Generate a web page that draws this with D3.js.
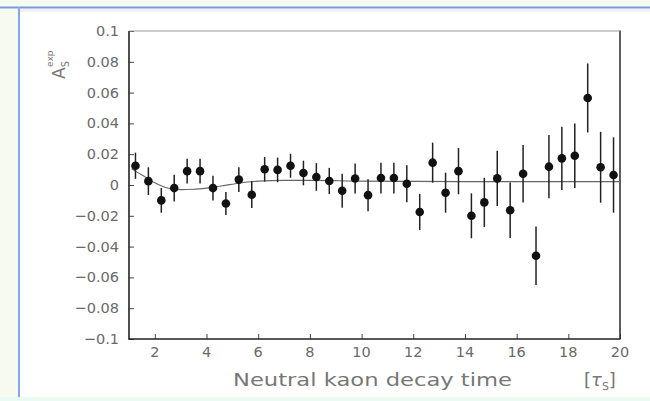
<!DOCTYPE html>
<html>
<head>
<meta charset="utf-8">
<script src="https://cdn.jsdelivr.net/npm/d3@7"></script>
<style>
  html, body { margin: 0; padding: 0; background: #f6faf0; }
  svg { display: block; }
</style>
</head>
<body>
<svg id="chart" width="650" height="401"></svg>
<script>
// Bin centres of the decay-time histogram (units of tau_S)
const decayTimes = [1.25, 1.75, 2.25, 2.75, 3.25, 3.75, 4.25, 4.75, 5.25, 5.75,
                    6.25, 6.75, 7.25, 7.75, 8.25, 8.75, 9.25, 9.75, 10.25, 10.75,
                    11.25, 11.75, 12.25, 12.75, 13.25, 13.75, 14.25, 14.75, 15.25, 15.75,
                    16.25, 16.75, 17.25, 17.75, 18.25, 18.75, 19.25, 19.75];
// Measured asymmetry A_S^exp per bin
const asymmetry = [0.0125, 0.0025, -0.0100, -0.0020, 0.0090, 0.0090, -0.0020, -0.0120, 0.0035, -0.0063,
                   0.0102, 0.0098, 0.0125, 0.0078, 0.0052, 0.0026, -0.0037, 0.0042, -0.0066, 0.0045,
                   0.0045, 0.0008, -0.0175, 0.0145, -0.0050, 0.0090, -0.0200, -0.0113, 0.0043, -0.0164,
                   0.0073, -0.0459, 0.0119, 0.0173, 0.0190, 0.0565, 0.0115, 0.0065];
// Statistical uncertainty per bin
const asymmetryErr = [0.0085, 0.0090, 0.0080, 0.0087, 0.0080, 0.0080, 0.0080, 0.0075, 0.0080, 0.0087,
                      0.0080, 0.0080, 0.0078, 0.0080, 0.0090, 0.0085, 0.0110, 0.0097, 0.0104, 0.0100,
                      0.0100, 0.0120, 0.0117, 0.0130, 0.0130, 0.0150, 0.0146, 0.0160, 0.0180, 0.0180,
                      0.0186, 0.0190, 0.0205, 0.0205, 0.0210, 0.0224, 0.0230, 0.0245];
// Fitted curve
const fitTimes  = [1.1, 1.5, 2.0, 2.5, 3.0, 3.5, 4.0, 4.5, 5.0, 5.5, 6.0, 7.0, 8.0, 10.0, 14.0, 20.0];
const fitValues = [0.0105, 0.0065, 0.0015, -0.0020, -0.0030, -0.0028, -0.0020, -0.0008, 0.0005, 0.0018,
                   0.0025, 0.0030, 0.0030, 0.0025, 0.0022, 0.0022];
// Axis tick labels
const xTickValues = [2, 4, 6, 8, 10, 12, 14, 16, 18, 20];
const yTickValues = [0.1, 0.08, 0.06, 0.04, 0.02, 0, -0.02, -0.04, -0.06, -0.08, -0.1];

const svg = d3.select("#chart");
const W = 650, H = 401;

// page frame
svg.append("rect").attr("x", 0).attr("y", 0).attr("width", W).attr("height", H).attr("fill", "#f6faf0");
svg.append("rect").attr("x", 20).attr("y", 9).attr("width", W - 20).attr("height", 388).attr("fill", "#ffffff");
svg.append("rect").attr("x", 0).attr("y", 397).attr("width", W).attr("height", 4).attr("fill", "#eafbf3");
svg.append("rect").attr("x", 20).attr("y", 9).attr("width", W - 20).attr("height", 3).attr("fill", "#f3f0fa");
svg.append("line").attr("x1", 0).attr("x2", W).attr("y1", 7.5).attr("y2", 7.5)
  .attr("stroke", "#7a9be0").attr("stroke-width", 2);
svg.append("line").attr("x1", 19).attr("x2", 19).attr("y1", 7).attr("y2", 397)
  .attr("stroke", "#86a8ea").attr("stroke-width", 2);

const x = d3.scaleLinear().domain([1, 20]).range([129, 620]);
const y = d3.scaleLinear().domain([-0.1, 0.1]).range([339, 31]);

const font = "'DejaVu Sans', Verdana, sans-serif";
const labelColor = "#6a6a6a";

// y axis: ticks point inward
const yAxis = d3.axisRight(y)
  .tickValues(yTickValues)
  .tickSize(5)
  .tickFormat("");
const yMinor = d3.axisRight(y)
  .tickValues(d3.range(-25, 26).map(i => i * 0.004).filter(v => Math.abs(v) <= 0.1001))
  .tickSize(2.5)
  .tickFormat("");
const gy = svg.append("g").attr("transform", "translate(129,0)");
gy.call(yMinor);
gy.call(yAxis);
gy.selectAll("path.domain").remove();
gy.selectAll("line").attr("stroke", "#444").attr("stroke-width", 1);

// x axis: ticks point inward (up)
const xAxis = d3.axisTop(x).tickValues(xTickValues).tickSize(5).tickFormat("");
const xMinor = d3.axisTop(x).tickValues(d3.range(3, 41).map(i => i * 0.5)).tickSize(2.5).tickFormat("");
const gx = svg.append("g").attr("transform", "translate(0,339)");
gx.call(xMinor);
gx.call(xAxis);
gx.selectAll("path.domain").remove();
gx.selectAll("line").attr("stroke", "#444").attr("stroke-width", 1);

// frame lines
svg.append("line").attr("x1", 129).attr("x2", 129).attr("y1", 31).attr("y2", 339.5)
  .attr("stroke", "#222").attr("stroke-width", 1.6);
svg.append("line").attr("x1", 128.5).attr("x2", 620).attr("y1", 339).attr("y2", 339)
  .attr("stroke", "#222").attr("stroke-width", 1.4);
svg.append("line").attr("x1", 620).attr("x2", 620).attr("y1", 30.5).attr("y2", 339.5)
  .attr("stroke", "#333").attr("stroke-width", 1.6);
svg.append("line").attr("x1", 129).attr("x2", 620).attr("y1", 31).attr("y2", 31)
  .attr("stroke", "#999").attr("stroke-width", 1);

// tick labels
const fmtY = d => d === 0 ? "0" : (d < 0 ? "\u2212" : "") + String(Math.abs(d));
svg.append("g").selectAll("text").data(yTickValues).join("text")
  .attr("x", 119).attr("y", d => y(d) + 5)
  .attr("text-anchor", "end")
  .attr("font-family", font).attr("font-size", 14.5).attr("fill", labelColor)
  .text(fmtY);

svg.append("g").selectAll("text").data(xTickValues).join("text")
  .attr("x", d => x(d)).attr("y", 357)
  .attr("text-anchor", "middle")
  .attr("font-family", font).attr("font-size", 14.5).attr("fill", labelColor)
  .text(d => d);

// axis titles
svg.append("text")
  .attr("x", 233).attr("y", 386)
  .attr("font-family", font).attr("font-size", 18).attr("fill", "#777")
  .attr("textLength", 279).attr("lengthAdjust", "spacingAndGlyphs")
  .text("Neutral  kaon decay time");
const unit = svg.append("text")
  .attr("x", 584).attr("y", 386)
  .attr("font-family", font).attr("font-size", 18).attr("fill", "#777");
unit.append("tspan").text("[");
unit.append("tspan").attr("font-style", "italic").text("\u03C4");
unit.append("tspan").attr("font-size", 11).attr("dy", 4).text("S");
unit.append("tspan").attr("dy", -4).text("]");

const ylab = svg.append("text")
  .attr("transform", "translate(65,79) rotate(-90)")
  .attr("font-family", font).attr("font-size", 17).attr("fill", "#777");
ylab.append("tspan").text("A");
ylab.append("tspan").attr("font-size", 10).attr("dy", 4).text("S");
ylab.append("tspan").attr("font-size", 9).attr("dx", -6).attr("dy", -16).text("exp");

// fitted curve
const line = d3.line().x(d => x(d[0])).y(d => y(d[1])).curve(d3.curveMonotoneX);
svg.append("path")
  .datum(d3.zip(fitTimes, fitValues))
  .attr("d", line)
  .attr("fill", "none").attr("stroke", "#666").attr("stroke-width", 1.1);

// data points with error bars
const pts = d3.zip(decayTimes, asymmetry, asymmetryErr);
const gp = svg.append("g");
gp.selectAll("line.err").data(pts).join("line")
  .attr("class", "err")
  .attr("x1", d => x(d[0])).attr("x2", d => x(d[0]))
  .attr("y1", d => y(d[1] + d[2])).attr("y2", d => y(d[1] - d[2]))
  .attr("stroke", "#222").attr("stroke-width", 1.5);
gp.selectAll("circle").data(pts).join("circle")
  .attr("cx", d => x(d[0])).attr("cy", d => y(d[1]))
  .attr("r", 4.3).attr("fill", "#111");
</script>
</body>
</html>
